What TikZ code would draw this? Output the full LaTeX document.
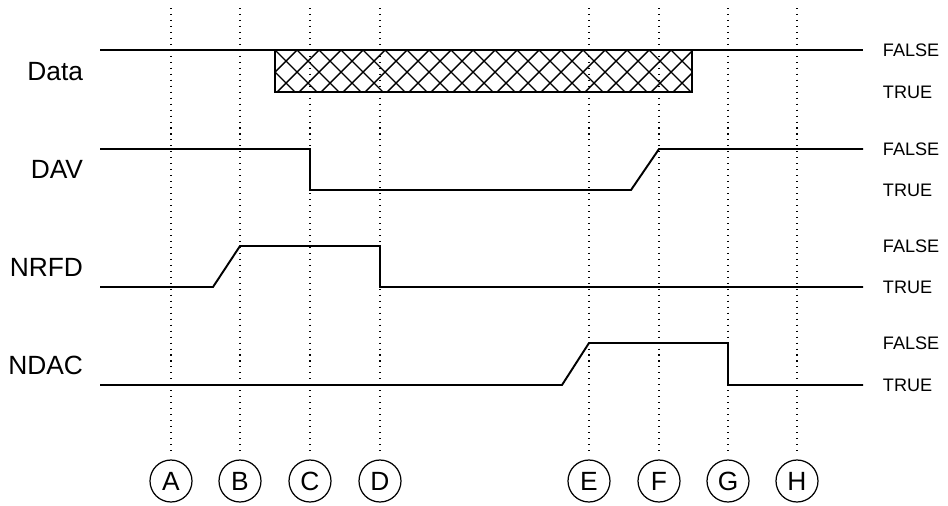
\documentclass[tikz,border=0pt]{standalone}
\usepackage{fontspec}
\setmainfont{Liberation Sans}

\begin{document}
\begin{tikzpicture}[x=0.02cm,y=-0.02cm,line width=1.1pt,
    wave/.style={line width=1.1pt,line join=miter},
    guide/.style={line width=0.6pt,dash pattern=on 0.6pt off 2.8pt,shorten >=2pt},
    hatch/.style={line width=0.8pt},
    signame/.style={anchor=east,inner sep=0pt,font=\fontsize{15}{18}\selectfont},
    level/.style={anchor=west,inner sep=0pt,font=\fontsize{10.3}{12}\selectfont},
    event/.style={circle,draw,line width=0.7pt,minimum size=0.84cm,inner sep=0pt,
      font=\fontsize{15}{18}\selectfont}]
  \useasboundingbox (0,0) rectangle (948,505);
  % time marks with their dotted guides
  \foreach \n/\x in {A/171,B/240,C/310,D/380,E/589,F/659,G/728,H/797}{
    \node[event] (\n) at (\x,481) {\n};
    \coordinate (top\n) at (\x,8);
    \draw[guide] (top\n) -- (\n);
  }
  % signal names
  \node[signame] (data) at (84,72) {Data};
  \node[signame] (dav) at (84,169) {DAV};
  \node[signame] (nrfd) at (84,267) {NRFD};
  \node[signame] (ndac) at (84,365) {NDAC};
  % logic levels
  \foreach \s/\hi/\lo in {data/50/92,dav/149/190,nrfd/246/287,ndac/343/385}{
    \node[level] (\s F) at (882,\hi) {FALSE};
    \node[level] (\s T) at (882,\lo) {TRUE};
  }
  % Data: valid window, cross hatched
  \draw[wave] (100,50) -- (863,50);
  \begin{scope}
    \clip (275,50) rectangle (692,92);
    \foreach \k in {-2,...,21}{
      \draw[hatch] (275+22*\k,50) -- ++(42,42);
      \draw[hatch] (275+22*\k,50) -- ++(-42,42);
    }
  \end{scope}
  \draw[wave] (275,50) rectangle (692,92);
  % DAV
  \draw[wave] (100,149) -- (310,149) -- (310,190) -- (631,190) -- (659,149) -- (863,149);
  % NRFD
  \draw[wave] (100,287) -- (213,287) -- (240,246) -- (380,246) -- (380,287) -- (863,287);
  % NDAC
  \draw[wave] (100,385) -- (562,385) -- (589,343) -- (728,343) -- (728,385) -- (863,385);
\end{tikzpicture}
\end{document}
